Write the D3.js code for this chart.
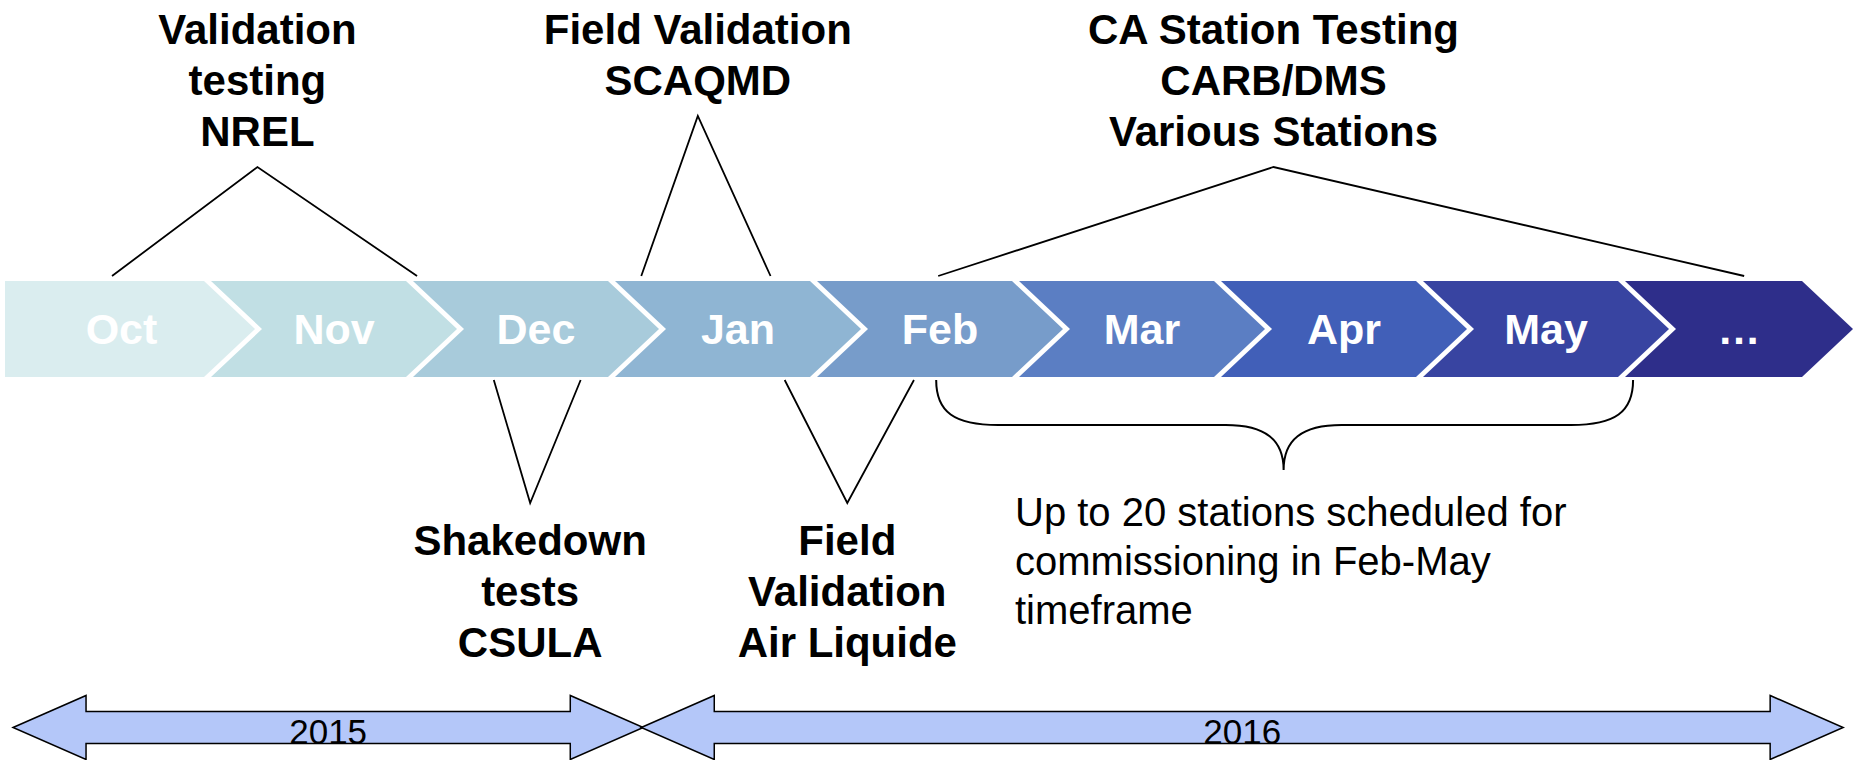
<!DOCTYPE html>
<html>
<head>
    <title>Station testing timeline</title>
    <meta name="viewport" content="width=device-width, initial-scale=1" />
    <script src="https://d3js.org/d3.v7.min.js"></script>
    <style>
        body { margin: 0; background: #ffffff; }
        svg { display: block; }
        text { font-family: 'Liberation Sans', Arial, sans-serif; }
    </style>
</head>
<body>
    <svg id="chart"></svg>

    <script>
        // months on the chevron band
        var months = ['Oct', 'Nov', 'Dec', 'Jan', 'Feb', 'Mar', 'Apr', 'May', '\u2026'];
        var monthColors = ['#daedef', '#c1dfe4', '#a8cbdb', '#8fb5d3', '#779cca', '#5b7ec3', '#415fb8', '#3844a1', '#2e2e8a'];

        // callouts above the band: [from, peak, to] in month units
        var topLabels = [
            ['Validation', 'testing', 'NREL'],
            ['Field Validation', 'SCAQMD'],
            ['CA Station Testing', 'CARB/DMS', 'Various Stations']
        ];
        var topSpans = [[0.51, 1.23, 2.02], [3.13, 3.41, 3.77], [4.60, 6.26, 8.59]];

        // callouts below the band
        var bottomLabels = [
            ['Shakedown', 'tests', 'CSULA'],
            ['Field', 'Validation', 'Air Liquide']
        ];
        var bottomSpans = [[2.40, 2.58, 2.83], [3.84, 4.15, 4.48]];

        // brace under Feb-May
        var braceSpan = [4.59, 6.31, 8.04];
        var braceText = ['Up to 20 stations scheduled for', 'commissioning in Feb-May', 'timeframe'];

        // year arrows
        var years = ['2015', '2016'];
        var yearSpans = [[0.02, 3.14], [3.13, 9.08]];

        var width = 1858;
        var height = 760;
        var bandTop = 281;
        var bandBottom = 377;
        var bandMid = (bandTop + bandBottom) / 2;
        var body = 195;
        var head = 51;
        var lineH = 51;

        var svg = d3.select('#chart')
            .attr('width', width)
            .attr('height', height);

        var x = d3.scaleLinear()
            .domain([1, 8])
            .range([211, 1625]);

        // chevrons
        var chev = svg.append('g');
        months.forEach(function(m, i) {
            var s = x(i);
            var w = Math.min(body, width - 5 - head - s);
            var pts;
            if (i === 0) {
                s = 5;
                w = x(1) - 7 - s;
                pts = [[s, bandTop], [s + w, bandTop], [s + w + head, bandMid], [s + w, bandBottom], [s, bandBottom]];
            } else {
                pts = [[s, bandTop], [s + w, bandTop], [s + w + head, bandMid], [s + w, bandBottom], [s, bandBottom], [s + head, bandMid]];
            }
            chev.append('polygon')
                .attr('points', pts.map(function(p) { return p.join(','); }).join(' '))
                .attr('fill', monthColors[i]);

            var cx = i === 0 ? (s + s + w) / 2 + head / 3 : (s + s + w + head) / 2;
            chev.append('text')
                .attr('x', cx)
                .attr('y', bandMid + 15)
                .attr('text-anchor', 'middle')
                .attr('fill', '#ffffff')
                .style('font-size', '43px')
                .style('font-weight', 'bold')
                .text(m);
        });

        var line = d3.line();

        // top callouts
        topLabels.forEach(function(lines, i) {
            var sp = topSpans[i];
            var firstBase = 44;
            var peakY = firstBase + (lines.length - 1) * lineH + 21;
            svg.append('path')
                .attr('d', line([[x(sp[0]), bandTop - 5], [x(sp[1]), peakY], [x(sp[2]), bandTop - 5]]))
                .attr('fill', 'none')
                .attr('stroke', '#000')
                .attr('stroke-width', 1.8);
            lines.forEach(function(t, j) {
                svg.append('text')
                    .attr('x', x(sp[1]))
                    .attr('y', firstBase + j * lineH)
                    .attr('text-anchor', 'middle')
                    .style('font-size', '42px')
                    .style('font-weight', 'bold')
                    .text(t);
            });
        });

        // bottom callouts
        bottomLabels.forEach(function(lines, i) {
            var sp = bottomSpans[i];
            var tipY = 503;
            svg.append('path')
                .attr('d', line([[x(sp[0]), bandBottom + 3], [x(sp[1]), tipY], [x(sp[2]), bandBottom + 3]]))
                .attr('fill', 'none')
                .attr('stroke', '#000')
                .attr('stroke-width', 1.8);
            lines.forEach(function(t, j) {
                svg.append('text')
                    .attr('x', x(sp[1]))
                    .attr('y', tipY + 52 + j * lineH)
                    .attr('text-anchor', 'middle')
                    .style('font-size', '42px')
                    .style('font-weight', 'bold')
                    .text(t);
            });
        });

        // brace
        var b0 = x(braceSpan[0]), bm = x(braceSpan[1]), b1 = x(braceSpan[2]);
        var bt = bandBottom + 3, bh = 425, btip = 470;
        var bp = d3.path();
        bp.moveTo(b0, bt);
        bp.bezierCurveTo(b0, bt + 32, b0 + 18, bh, b0 + 62, bh);
        bp.lineTo(bm - 58, bh);
        bp.bezierCurveTo(bm - 18, bh, bm, bh + 15, bm, btip);
        bp.bezierCurveTo(bm, bh + 15, bm + 18, bh, bm + 58, bh);
        bp.lineTo(b1 - 62, bh);
        bp.bezierCurveTo(b1 - 18, bh, b1, bt + 32, b1, bt);
        svg.append('path')
            .attr('d', bp.toString())
            .attr('fill', 'none')
            .attr('stroke', '#000')
            .attr('stroke-width', 2);

        braceText.forEach(function(t, j) {
            svg.append('text')
                .attr('x', 1015)
                .attr('y', 526 + j * 49)
                .style('font-size', '40px')
                .text(t);
        });

        // year arrows
        var cy = 727.5, ah = 73, aw = 32, sw = 16;
        years.forEach(function(yr, i) {
            var xa = x(yearSpans[i][0]);
            var xb = x(yearSpans[i][1]);
            var pts = [[xa, cy], [xa + ah, cy - aw], [xa + ah, cy - sw], [xb - ah, cy - sw], [xb - ah, cy - aw],
                [xb, cy], [xb - ah, cy + aw], [xb - ah, cy + sw], [xa + ah, cy + sw], [xa + ah, cy + aw]];
            svg.append('polygon')
                .attr('points', pts.map(function(p) { return p.join(','); }).join(' '))
                .attr('fill', '#b4c7f9')
                .attr('stroke', '#000')
                .attr('stroke-width', 1.5);
            svg.append('text')
                .attr('x', (xa + xb) / 2)
                .attr('y', cy + 16)
                .attr('text-anchor', 'middle')
                .style('font-size', '35px')
                .text(yr);
        });
    </script>
</body>
</html>
